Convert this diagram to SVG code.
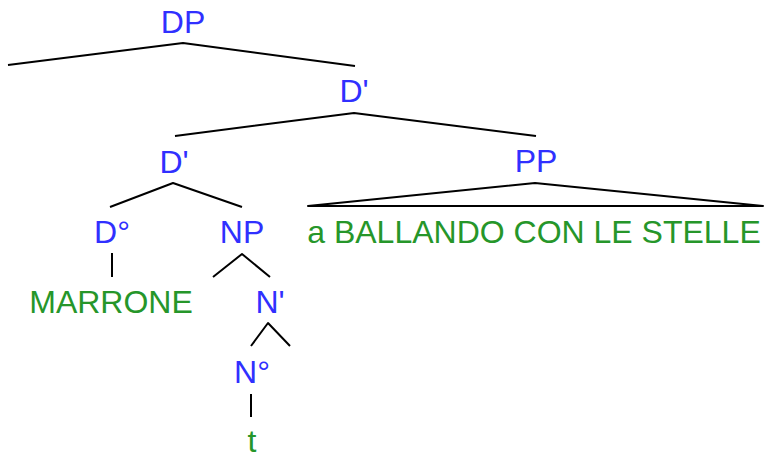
<svg xmlns="http://www.w3.org/2000/svg" width="765" height="459" viewBox="0 0 765 459">
  <style>
    .cat { font-family: "Liberation Sans", Arial, sans-serif; font-size: 32px; fill: #3030ff; text-anchor: middle; }
    .word { font-family: "Liberation Sans", Arial, sans-serif; font-size: 32px; fill: #26962a; text-anchor: middle; }
    .edge { stroke: #000; stroke-width: 2; fill: none; stroke-linecap: butt; stroke-linejoin: round; }
  </style>
  <rect width="765" height="459" fill="#fff"/>

  <!-- branches -->
  <g id="connectors">
    <polyline class="edge" points="8,65 183,43 355,66"/>
    <polyline class="edge" points="175,136 354,113 536,136"/>
    <polyline class="edge" points="110,207 173,183 242,207"/>
    <polygon class="edge" points="308,206 535,183 763,206"/>
    <line class="edge" x1="112" y1="253" x2="112" y2="277"/>
    <polyline class="edge" points="213,277 242,254 270,277"/>
    <polyline class="edge" points="251,346 268,323 290,346"/>
    <line class="edge" x1="251" y1="394" x2="251" y2="417"/>
  </g>

  <!-- nodes -->
  <g id="DP"><text class="cat" x="183" y="33">DP</text></g>
  <g id="Dbar1"><text class="cat" x="354" y="102">D'</text></g>
  <g id="Dbar2"><text class="cat" x="174" y="173">D'</text></g>
  <g id="PP"><text class="cat" x="536" y="172">PP</text></g>
  <g id="PP-words"><text class="word" x="534" y="243">a BALLANDO CON LE STELLE</text></g>
  <g id="D0"><text class="cat" x="112" y="243">D°</text></g>
  <g id="MARRONE"><text class="word" x="111" y="313">MARRONE</text></g>
  <g id="NP"><text class="cat" x="242" y="243">NP</text></g>
  <g id="Nbar"><text class="cat" x="270" y="313">N'</text></g>
  <g id="N0"><text class="cat" x="252" y="383">N°</text></g>
  <g id="trace"><text class="word" x="252" y="452">t</text></g>
</svg>
